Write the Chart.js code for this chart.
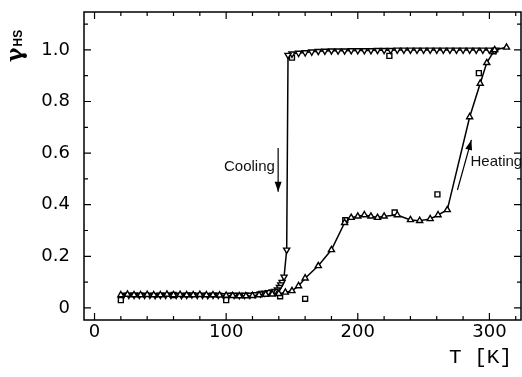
<!DOCTYPE html>
<html><head><meta charset="utf-8">
<script src="https://cdn.jsdelivr.net/npm/chart.js@4/dist/chart.umd.min.js"></script>
<style>html,body{margin:0;padding:0;background:#fff;overflow:hidden}</style>
</head><body>
<canvas id="c" width="522" height="377"></canvas>
<script>
// ---- data ----
const heatingT = [20,25,30,35,40,45,50,55,60,65,70,75,80,85,90,95,100,105,110,115,120,125,130,135,140,145,150,155,160,170,180,190,195,200,205,210,215,220,230,240,247,255,261,268,285,293,298,304,313];
const heatingY = [0.05,0.052,0.05,0.05,0.051,0.05,0.05,0.052,0.05,0.051,0.05,0.05,0.051,0.05,0.05,0.049,0.048,0.047,0.046,0.046,0.047,0.05,0.052,0.053,0.055,0.06,0.066,0.085,0.115,0.163,0.225,0.33,0.35,0.355,0.36,0.355,0.35,0.355,0.36,0.341,0.338,0.345,0.36,0.38,0.74,0.87,0.95,1.0,1.01];

const coolingT = [305,300,295,290,285,280,275,270,265,260,255,250,245,240,235,230,225,220,215,210,205,200,195,190,185,180,175,170,165,160,155,150,147,146,144,142.5,141.5,140.5,139,137,135,132,129,126,122,118,114,110,106,102,98,94,90,86,82,78,74,70,66,62,58,54,50,46,42,38,34,30,26,22];
const coolingY = [1.0,1.0,1.0,1.0,1.0,1.0,1.0,1.0,1.0,1.0,1.0,1.0,1.0,1.0,1.0,1.0,0.999,0.999,0.999,0.998,0.998,0.998,0.998,0.997,0.997,0.997,0.996,0.995,0.993,0.99,0.988,0.985,0.98,0.225,0.12,0.10,0.09,0.08,0.07,0.065,0.063,0.06,0.058,0.055,0.052,0.05,0.05,0.049,0.05,0.05,0.048,0.05,0.05,0.049,0.05,0.05,0.051,0.05,0.049,0.05,0.05,0.05,0.05,0.049,0.05,0.05,0.05,0.05,0.05,0.05];

const squareT = [20,60,100,141,160,150,190.5,228,224,260.5,292,303];
const squareY = [0.03,0.05,0.03,0.045,0.035,0.97,0.34,0.37,0.977,0.44,0.91,0.995];

const xLabelTicks = [0,100,200,300];
const xMinorTicks = [0,20,40,60,80,100,120,140,160,180,200,220,240,260,280,300,320];
const yLabelTicks = [0,0.2,0.4,0.6,0.8,1.0];
const yMinorTicks = [0,0.1,0.2,0.3,0.4,0.5,0.6,0.7,0.8,0.9,1.0,1.1];

const xTitle = 'T [K]';
const yTitleMain = 'γ';
const yTitleSub = 'HS';
const coolingLabel = 'Cooling';
const heatingLabel = 'Heating';
// annotation anchors in data units
const coolingArrow = {x1:139.5, y1:0.62, x2:139.5, y2:0.45, tx:137, ty:0.545};
const heatingArrow = {x1:275.7, y1:0.457, x2:286.3, y2:0.651, tx:285.6, ty:0.566};

const toPts = (xs, ys) => xs.map((x,i)=>({x, y: ys[i]}));

const framePlugin = {
  id: 'frame',
  afterDraw(chart) {
    const {ctx, chartArea: a, scales: {x, y}} = chart;
    ctx.save();
    ctx.strokeStyle = '#000';
    ctx.lineWidth = 1.5;
    ctx.strokeRect(a.left, a.top, a.right - a.left, a.bottom - a.top);
    ctx.lineWidth = 1.2;
    ctx.beginPath();
    xMinorTicks.forEach(v => {
      const px = x.getPixelForValue(v);
      const len = (v % 100 === 0) ? 7 : 4;
      ctx.moveTo(px, a.bottom); ctx.lineTo(px, a.bottom - len);
      ctx.moveTo(px, a.top); ctx.lineTo(px, a.top + len);
    });
    yMinorTicks.forEach(v => {
      const py = y.getPixelForValue(v);
      const major = Math.abs(Math.round(v*10) % 2) === 0;
      const len = major ? 7 : 4;
      ctx.moveTo(a.left, py); ctx.lineTo(a.left + len, py);
      ctx.moveTo(a.right, py); ctx.lineTo(a.right - len, py);
    });
    ctx.stroke();

    // arrows
    const arrow = (o) => {
      const x1 = x.getPixelForValue(o.x1), y1 = y.getPixelForValue(o.y1);
      const x2 = x.getPixelForValue(o.x2), y2 = y.getPixelForValue(o.y2);
      ctx.lineWidth = 1.2;
      ctx.beginPath(); ctx.moveTo(x1, y1); ctx.lineTo(x2, y2); ctx.stroke();
      const ang = Math.atan2(y2 - y1, x2 - x1);
      const L = 10, W = 3.5;
      ctx.beginPath();
      ctx.moveTo(x2, y2);
      ctx.lineTo(x2 - L*Math.cos(ang) + W*Math.sin(ang), y2 - L*Math.sin(ang) - W*Math.cos(ang));
      ctx.lineTo(x2 - L*Math.cos(ang) - W*Math.sin(ang), y2 - L*Math.sin(ang) + W*Math.cos(ang));
      ctx.closePath(); ctx.fillStyle = '#000'; ctx.fill();
    };
    arrow(coolingArrow);
    arrow(heatingArrow);

    ctx.fillStyle = '#111';
    ctx.font = '15px "Liberation Sans", Arial, sans-serif';
    ctx.textBaseline = 'middle';
    ctx.textAlign = 'right';
    ctx.fillText(coolingLabel, x.getPixelForValue(coolingArrow.tx), y.getPixelForValue(coolingArrow.ty));
    ctx.textAlign = 'left';
    ctx.fillText(heatingLabel, x.getPixelForValue(heatingArrow.tx), y.getPixelForValue(heatingArrow.ty));

    // x title
    ctx.fillStyle = '#000';
    ctx.font = '21px "Liberation Mono", "Courier New", monospace';
    ctx.textAlign = 'right';
    ctx.textBaseline = 'middle';
    ctx.fillText(xTitle, a.right - 9, 357);

    // y title (rotated)
    ctx.save();
    ctx.translate(22, 62);
    ctx.rotate(-Math.PI/2);
    ctx.textAlign = 'left';
    ctx.textBaseline = 'alphabetic';
    ctx.font = 'bold 22px "DejaVu Serif", serif';
    ctx.fillText(yTitleMain, 0, 0);
    const w = ctx.measureText(yTitleMain).width;
    ctx.font = 'bold 12px "Liberation Sans", sans-serif';
    ctx.fillText(yTitleSub, w + 1, 0);
    ctx.restore();
    ctx.restore();
  }
};

new Chart(document.getElementById('c'), {
  type: 'scatter',
  data: {
    datasets: [
      {
        label: 'Heating',
        data: toPts(heatingT, heatingY),
        showLine: true,
        borderColor: '#000',
        borderWidth: 1.5,
        tension: 0,
        pointStyle: 'triangle',
        pointRadius: 3.5,
        pointBorderWidth: 1.4,
        pointBackgroundColor: '#fff',
        pointBorderColor: '#000'
      },
      {
        label: 'Cooling',
        data: toPts(coolingT, coolingY),
        showLine: true,
        borderColor: '#000',
        borderWidth: 1.5,
        tension: 0,
        pointStyle: 'triangle',
        rotation: 180,
        pointRadius: 3.5,
        pointBorderWidth: 1.4,
        pointBackgroundColor: '#fff',
        pointBorderColor: '#000'
      },
      {
        label: 'Other',
        data: toPts(squareT, squareY),
        showLine: false,
        pointStyle: 'rect',
        pointRadius: 3.5,
        pointBorderWidth: 1.4,
        pointBackgroundColor: '#fff',
        pointBorderColor: '#000'
      }
    ]
  },
  options: {
    responsive: false,
    animation: false,
    devicePixelRatio: 1,
    layout: { padding: { top: 12, right: 1, left: 0, bottom: 0 } },
    plugins: { legend: { display: false }, tooltip: { enabled: false } },
    scales: {
      x: {
        type: 'linear',
        min: -8, max: 324,
        afterBuildTicks: s => { s.ticks = xLabelTicks.map(v => ({ value: v })); },
        afterFit: s => { s.height = 57; s.paddingLeft = 0; s.paddingRight = 0; },
        grid: { display: false, drawTicks: false, offset: false },
        border: { display: false },
        ticks: {
          autoSkip: false, maxRotation: 0, padding: 2, color: '#000',
          font: { family: '"DejaVu Sans", sans-serif', size: 18 },
          callback: v => String(v)
        }
      },
      y: {
        type: 'linear',
        min: -0.047, max: 1.147,
        afterBuildTicks: s => { s.ticks = yLabelTicks.map(v => ({ value: v })); },
        afterFit: s => { s.width = 84; s.paddingTop = 0; s.paddingBottom = 0; },
        grid: { display: false, drawTicks: false },
        border: { display: false },
        ticks: {
          autoSkip: false, padding: 14, color: '#000',
          font: { family: '"DejaVu Sans", sans-serif', size: 18 },
          callback: v => v === 0 ? '0' : Number(v).toFixed(1)
        }
      }
    }
  },
  plugins: [framePlugin, {
    id: 'areaFix',
    afterLayout(chart) {
      // keep the plot frame flush with the reference's right edge
      const a = chart.chartArea;
      const target = chart.width - 1;
      if (a.right !== target) {
        a.right = target;
        a.width = a.right - a.left;
        const xs = chart.scales.x;
        xs.right = target;
        xs.width = xs.right - xs.left;
        xs.configure();
      }
    }
  }]
});
</script>
</body></html>
